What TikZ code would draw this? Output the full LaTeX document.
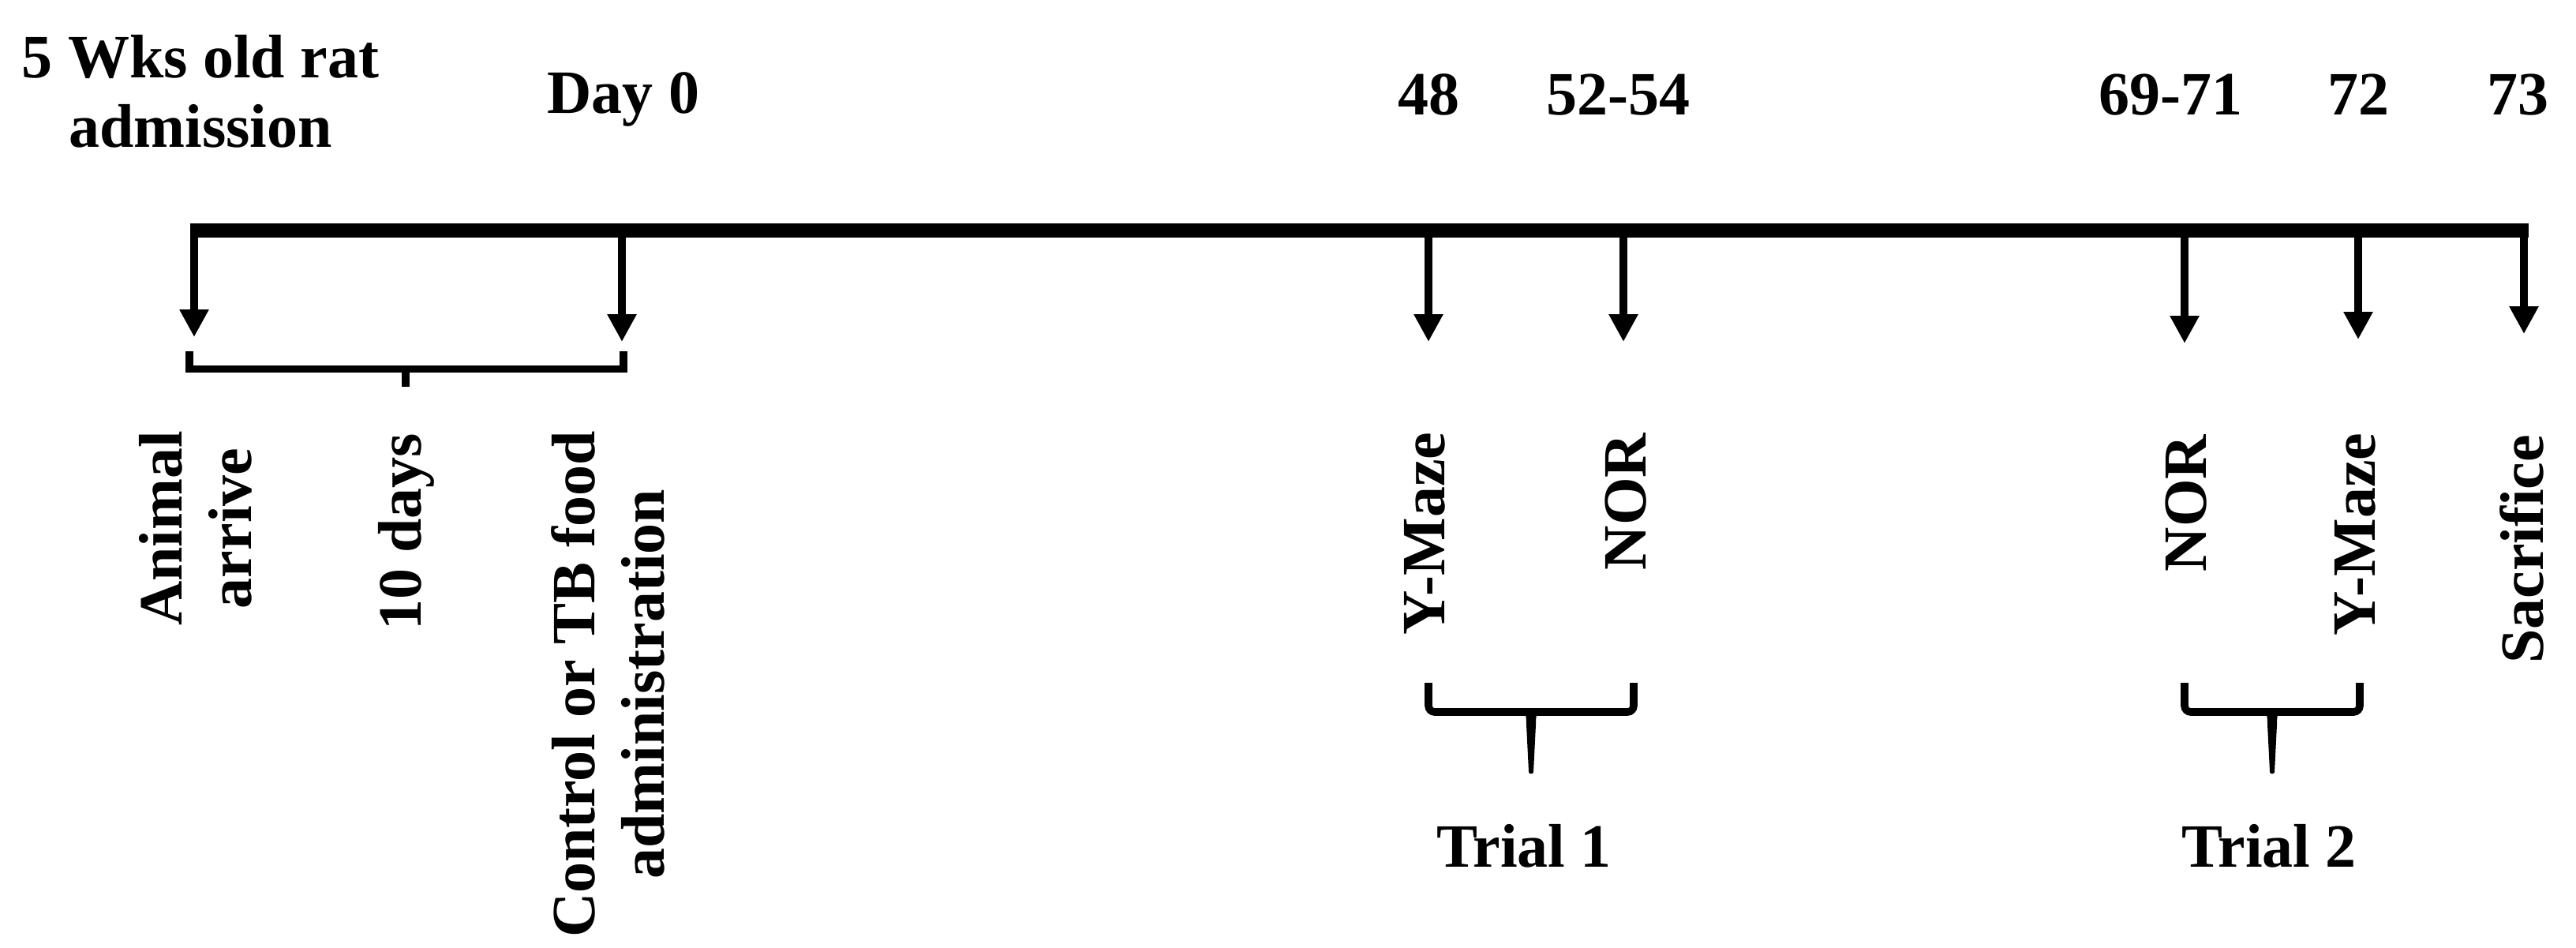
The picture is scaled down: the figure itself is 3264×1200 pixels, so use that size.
\documentclass[tikz,border=0pt]{standalone}
\usepackage{fontspec}
\setmainfont{Liberation Serif}
\usetikzlibrary{arrows.meta}
\begin{document}
\begin{tikzpicture}[x=0.25pt,y=-0.25pt,
  bar/.style={line width=4.5pt},
  arr/.style={line width=2.5pt,-{Triangle[width=8.75pt,length=8.75pt]}},
  brk/.style={line width=2.4pt},
  tbrk/.style={line width=2.4pt,rounded corners=2pt},
  lbl/.style={inner sep=0pt,font=\fontsize{19.5}{22}\selectfont\bfseries},
  vlbl/.style={lbl,rotate=90,anchor=east,align=center}]
\useasboundingbox (0,0) rectangle (3264,1200);
% timeline bar
\coordinate (bL) at (241,292);
\coordinate (bR) at (3204,292);
\draw[bar] (bL) -- (bR);
% event arrows
\foreach \n/\x/\t in {a/246/427, d/788/433, e/1810/433, f/2057/433, g/2768/435, h/2988/430, i/3198/423} {
  \coordinate (s\n) at (\x,292);
  \coordinate (e\n) at (\x,\t);
  \draw[arr] (s\n) -- (e\n);
}
% top labels
\node[lbl,align=center,anchor=south] (wk) at (254,188) {5 Wks old rat\\admission};
\node[lbl,anchor=base] (day0) at (790,143) {Day 0};
\node[lbl,anchor=base] (n48) at (1810,145) {48};
\node[lbl,anchor=base] (n52) at (2050,145) {52-54};
\node[lbl,anchor=base] (n69) at (2750,145) {69-71};
\node[lbl,anchor=base] (n72) at (2988,145) {72};
\node[lbl,anchor=base] (n73) at (3190,145) {73};
% vertical labels
\node[vlbl] (anim) at (248,545) {Animal\\arrive};
\node[vlbl] (days) at (515,548) {10 days};
\node[vlbl] (ctrl) at (770,545) {Control or TB food\\administration};
\node[vlbl] (ym1) at (1805,547) {Y-Maze};
\node[vlbl] (nor1) at (2060,548) {NOR};
\node[vlbl] (nor2) at (2770,550) {NOR};
\node[vlbl] (ym2) at (2984,548) {Y-Maze};
\node[vlbl] (sac) at (3195,550) {Sacrifice};
% 10-day bracket
\draw[brk] (240,445) -- (240,467.5) -- (790,467.5) -- (790,445);
\draw[brk] (514,467.5) -- (514,490);
% trial brackets
\foreach \l/\r/\c in {1810/2070/1940, 2768/2990/2879} {
  \draw[tbrk] (\l,865) -- (\l,902) -- (\r,902) -- (\r,865);
  \fill (\c-16,898) .. controls (\c-7,899) and (\c-6,906) .. (\c-6,918)
        -- (\c-3,978) .. controls (\c-3,981) and (\c+3,981) .. (\c+3,978)
        -- (\c+6,918) .. controls (\c+6,906) and (\c+7,899) .. (\c+16,898) -- cycle;
}
% trial labels
\node[lbl,anchor=base] (tr1) at (1931,1098) {Trial 1};
\node[lbl,anchor=base] (tr2) at (2875,1098) {Trial 2};
\end{tikzpicture}
\end{document}
